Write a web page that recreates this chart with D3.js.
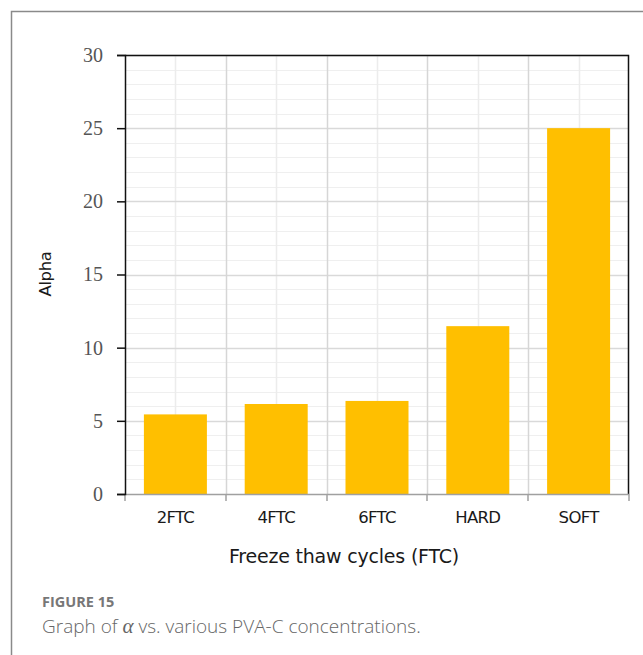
<!DOCTYPE html>
<html>
<head>
<meta charset="utf-8">
<script src="https://cdn.jsdelivr.net/npm/d3@7"></script>
<style>
  body { margin: 0; background: #fff; }
</style>
</head>
<body>
<div id="chart"></div>
<script>
(function () {
  const categories = ['2FTC', '4FTC', '6FTC', 'HARD', 'SOFT'];
  const alphaValues = [5.44, 6.15, 6.36, 11.47, 25.0];
  const yTicks = [0, 5, 10, 15, 20, 25, 30];

  const W = 643, H = 655;
  const margin = { top: 55, right: 14, bottom: 161, left: 125 };
  const width = W - margin.left - margin.right;
  const height = H - margin.top - margin.bottom;

  const svg = d3.select('#chart').append('svg')
    .attr('width', W).attr('height', H);

  // outer frame (top and left only, cropped at right/bottom)
  svg.append('path')
    .attr('d', `M11.5,${H} V11.5 H${W}`)
    .attr('fill', 'none').attr('stroke', '#8a8a8a').attr('stroke-width', 1.5);

  const g = svg.append('g').attr('transform', `translate(${margin.left},${margin.top})`);

  const x = d3.scaleBand().domain(categories).range([0, width]).paddingInner(0).paddingOuter(0);
  const y = d3.scaleLinear().domain([0, 30]).range([height, 0]);

  // minor horizontal grid
  g.append('g').selectAll('line').data(d3.range(0, 31, 1).filter(v => v % 5 !== 0))
    .join('line')
    .attr('x1', 0).attr('x2', width)
    .attr('y1', d => Math.round(y(d)) + 0.5).attr('y2', d => Math.round(y(d)) + 0.5)
    .attr('stroke', '#efefef');

  // minor vertical grid (category centres)
  g.append('g').selectAll('line').data(categories)
    .join('line')
    .attr('x1', d => Math.round(x(d) + x.bandwidth() / 2) + 0.5)
    .attr('x2', d => Math.round(x(d) + x.bandwidth() / 2) + 0.5)
    .attr('y1', 0).attr('y2', height)
    .attr('stroke', '#ececec').attr('stroke-width', 1.5);

  // major horizontal grid
  g.append('g').selectAll('line').data(yTicks.slice(1))
    .join('line')
    .attr('x1', 0).attr('x2', width)
    .attr('y1', d => Math.round(y(d)) + 0.5).attr('y2', d => Math.round(y(d)) + 0.5)
    .attr('stroke', '#d9d9d9').attr('stroke-width', 1.5);

  // major vertical grid (category boundaries)
  g.append('g').selectAll('line').data(categories.slice(1))
    .join('line')
    .attr('x1', d => Math.round(x(d)) + 0.5).attr('x2', d => Math.round(x(d)) + 0.5)
    .attr('y1', 0).attr('y2', height)
    .attr('stroke', '#d6d6d6').attr('stroke-width', 1.5);

  // bars
  const barW = 63;
  g.append('g').selectAll('rect').data(alphaValues)
    .join('rect')
    .attr('x', (d, i) => x(categories[i]) + (x.bandwidth() - barW) / 2)
    .attr('y', d => y(d))
    .attr('width', barW)
    .attr('height', d => height - y(d))
    .attr('fill', '#ffbf00');

  // top and right frame
  g.append('path')
    .attr('d', `M0,0.5 H${width - 0.5} V${height}`)
    .attr('fill', 'none').attr('stroke', '#111').attr('stroke-width', 1.5);

  const sans = '"DejaVu Sans", Verdana, sans-serif';

  // x axis
  const xAxis = g.append('g').attr('transform', `translate(0,${height})`);
  xAxis.append('line')
    .attr('x1', 0).attr('x2', width).attr('y1', 0.5).attr('y2', 0.5)
    .attr('stroke', '#a0a0a0').attr('stroke-width', 1.5);
  xAxis.selectAll('.tk').data(d3.range(categories.length + 1))
    .join('line')
    .attr('x1', i => Math.round(i * x.step())).attr('x2', i => Math.round(i * x.step()))
    .attr('y1', 0).attr('y2', 7)
    .attr('stroke', '#a0a0a0').attr('stroke-width', 1.5);
  xAxis.selectAll('text').data(categories)
    .join('text')
    .attr('x', d => x(d) + x.bandwidth() / 2)
    .attr('y', 29)
    .attr('text-anchor', 'middle')
    .attr('font-family', sans)
    .attr('font-size', 16.5)
    .attr('letter-spacing', -0.7)
    .attr('fill', '#1a1a1a')
    .text(d => d);

  // y axis
  const yAxis = g.append('g')
    .call(d3.axisLeft(y).tickValues(yTicks).tickSize(8).tickPadding(14).tickFormat(d3.format('d')));
  yAxis.select('.domain').attr('stroke', '#111').attr('stroke-width', 1.5);
  yAxis.selectAll('.tick line').attr('stroke', '#111').attr('stroke-width', 1.5);
  yAxis.selectAll('.tick text')
    .attr('font-family', '"Liberation Serif", "DejaVu Serif", serif')
    .attr('font-size', 20)
    .attr('fill', '#555');

  // axis titles
  svg.append('text')
    .attr('x', 344)
    .attr('y', 563)
    .attr('text-anchor', 'middle')
    .attr('font-family', sans)
    .attr('font-size', 19)
    .attr('letter-spacing', -0.2)
    .attr('fill', '#1a1a1a')
    .text('Freeze thaw cycles (FTC)');

  svg.append('text')
    .attr('transform', 'translate(51,274) rotate(-90)')
    .attr('text-anchor', 'middle')
    .attr('font-family', sans)
    .attr('font-size', 16.5)
    .attr('letter-spacing', -0.4)
    .attr('fill', '#1a1a1a')
    .text('Alpha');

  // caption
  svg.append('text')
    .attr('x', 42).attr('y', 607)
    .attr('font-family', '"Open Sans", sans-serif')
    .attr('font-weight', 700)
    .attr('font-size', 14.5)
    .attr('fill', '#777')
    .text('FIGURE 15');

  const cap = svg.append('text')
    .attr('x', 42).attr('y', 633)
    .attr('font-family', '"Open Sans", sans-serif')
    .attr('font-weight', 300)
    .attr('font-size', 19)
    .attr('fill', '#666');
  cap.append('tspan').text('Graph of ');
  cap.append('tspan').attr('font-family', '"Liberation Serif", serif').attr('font-style', 'italic').attr('font-size', 21).text('α');
  cap.append('tspan').text(' vs. various PVA-C concentrations.');
})();
</script>
</body>
</html>
